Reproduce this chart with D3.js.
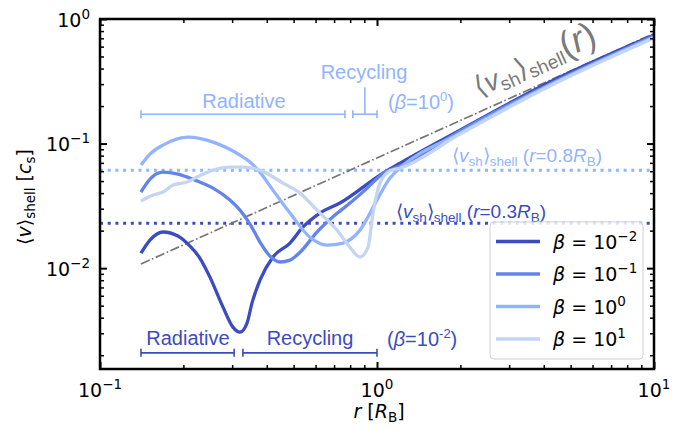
<!DOCTYPE html>
<html>
<head>
<meta charset="utf-8">
<script src="https://cdn.jsdelivr.net/npm/d3@7"></script>
<style>
body { margin: 0; background: #fff; }
</style>
</head>
<body>
<svg id="chart" width="699" height="430"></svg>
<script>
// --- data ---
var betaExp = ["\u22122", "\u22121", "0", "1"];

var rB2 = [0.1406, 0.1515, 0.1688, 0.1912, 0.2113, 0.2296, 0.2494, 0.2780, 0.3019, 0.3201, 0.3394, 0.3537, 0.3780, 0.4211, 0.4852, 0.5406, 0.6226, 0.7351, 1.051, 1.211, 1.994, 4.21, 10];
var vB2 = [0.0132, 0.0168, 0.0195, 0.0181, 0.0150, 0.0120, 0.00847, 0.00486, 0.00336, 0.00306, 0.00362, 0.00524, 0.00801, 0.0123, 0.0159, 0.0214, 0.0277, 0.0333, 0.0579, 0.0697, 0.1283, 0.312, 0.744];

var rB1 = [0.1406, 0.1515, 0.1688, 0.1912, 0.2203, 0.2559, 0.2945, 0.3201, 0.3479, 0.3780, 0.4108, 0.4465, 0.4852, 0.5272, 0.6073, 0.7053, 0.7991, 0.9052, 1.051, 1.211, 1.994, 4.21, 10];
var vB1 = [0.0408, 0.0519, 0.0590, 0.0569, 0.0509, 0.0439, 0.0352, 0.0292, 0.0226, 0.0162, 0.0125, 0.0112, 0.0116, 0.0134, 0.0195, 0.0267, 0.0333, 0.0423, 0.0575, 0.0660, 0.126, 0.301, 0.730];

var rB0 = [0.1406, 0.1515, 0.1688, 0.2078, 0.2559, 0.3201, 0.3479, 0.3780, 0.4108, 0.4852, 0.5729, 0.6600, 0.7537, 0.8681, 1.0, 1.114, 1.211, 1.994, 4.21, 10];
var vB0 = [0.0672, 0.0824, 0.0972, 0.1128, 0.1028, 0.0808, 0.0710, 0.0590, 0.0456, 0.0277, 0.0177, 0.0153, 0.0159, 0.0202, 0.0352, 0.0530, 0.0636, 0.1214, 0.295, 0.717];

var rBp1 = [0.1406, 0.1553, 0.1688, 0.1834, 0.2061, 0.2240, 0.2559, 0.2945, 0.3282, 0.3780, 0.4577, 0.5272, 0.6073, 0.7171, 0.7991, 0.8681, 0.9279, 0.9674, 1.025, 1.114, 1.211, 1.994, 4.21, 10];
var vBp1 = [0.0345, 0.0386, 0.0408, 0.0464, 0.0491, 0.0538, 0.0612, 0.0648, 0.0648, 0.0612, 0.0482, 0.0400, 0.0292, 0.0202, 0.0147, 0.0123, 0.0147, 0.0277, 0.0482, 0.0605, 0.0636, 0.1192, 0.290, 0.704];

// <v_sh>_shell(r) reference line, and the two constant levels
var rShLine = [0.1406, 10];
var vShLine = [0.0108, 0.765];
var vShell08 = 0.0612;
var vShell03 = 0.0229;

// phase ranges in r
var phaseNames = ["Radiative", "Recycling"];
var phasesB0 = [[0.1406, 0.766], [0.818, 1.0]];
var phasesB2 = [[0.1406, 0.305], [0.328, 1.0]];

var colors = ["#3b4cc0", "#6384eb", "#92b4fe", "#c4d5f3"];
var series = [[rB2, vB2], [rB1, vB1], [rB0, vB0], [rBp1, vBp1]];

var svg = d3.select("#chart");
var pL = 100, pR = 654, pT = 19, pB = 369;

var x = d3.scaleLog().domain([0.1, 10]).range([pL, pR]);
var y = d3.scaleLog().domain([1.55e-3, 1]).range([pB, pT]);

var tickFont = "DejaVu Sans, sans-serif";
var annFont = "Liberation Sans, Arial, sans-serif";

// write text with super/subscripts as tspans
function rich(sel, parts) {
    var cur = 0;
    parts.forEach(function(p) {
        var shift = p.sup ? -p.sup : (p.sub ? p.sub : 0);
        var ts = sel.append("tspan").text(p.t);
        if (shift !== cur) ts.attr("dy", shift - cur);
        cur = shift;
        if (p.size) ts.attr("font-size", p.size);
        if (p.it) ts.attr("font-style", "italic");
    });
    return sel;
}

var plot = svg.append("g");

// horizontal dotted levels
plot.append("line")
    .attr("x1", pL).attr("x2", pR)
    .attr("y1", y(vShell08)).attr("y2", y(vShell08))
    .attr("stroke", colors[2]).attr("stroke-width", 3)
    .attr("stroke-dasharray", "3,4.7");
plot.append("line")
    .attr("x1", pL).attr("x2", pR)
    .attr("y1", y(vShell03)).attr("y2", y(vShell03))
    .attr("stroke", colors[0]).attr("stroke-width", 3)
    .attr("stroke-dasharray", "3,4.7");

// dash-dot v_sh(r)
plot.append("line")
    .attr("x1", x(rShLine[0])).attr("x2", x(rShLine[1]))
    .attr("y1", y(vShLine[0])).attr("y2", y(vShLine[1]))
    .attr("stroke", "#767676").attr("stroke-width", 1.7)
    .attr("stroke-dasharray", "9.5,2.5,1.6,2.5");

var lineGen = d3.line()
    .x(function(d) { return x(d[0]); })
    .y(function(d) { return y(d[1]); })
    .curve(d3.curveMonotoneX);

series.forEach(function(s, i) {
    var pts = s[0].map(function(r, j) { return [r, s[1][j]]; });
    plot.append("path")
        .attr("d", lineGen(pts))
        .attr("fill", "none")
        .attr("stroke", colors[i])
        .attr("stroke-width", 3.3)
        .attr("stroke-linejoin", "round")
        .attr("stroke-linecap", "butt");
});

// phase range bars
function rangeBar(r0, r1, yy, col) {
    var g = plot.append("g").attr("stroke", col).attr("stroke-width", 1.6);
    g.append("line").attr("x1", x(r0)).attr("x2", x(r1)).attr("y1", yy).attr("y2", yy);
    g.append("line").attr("x1", x(r0)).attr("x2", x(r0)).attr("y1", yy - 4).attr("y2", yy + 4);
    g.append("line").attr("x1", x(r1)).attr("x2", x(r1)).attr("y1", yy - 4).attr("y2", yy + 4);
}
var yTopBar = y(0.172), yBotBar = y(0.00209);
phasesB0.forEach(function(p) { rangeBar(p[0], p[1], yTopBar, colors[2]); });
phasesB2.forEach(function(p) { rangeBar(p[0], p[1], yBotBar, colors[0]); });

// recycling pointer (beta = 1)
var recMid = Math.sqrt(phasesB0[1][0] * phasesB0[1][1]);
plot.append("line")
    .attr("x1", x(recMid)).attr("x2", x(recMid))
    .attr("y1", yTopBar - 27).attr("y2", yTopBar)
    .attr("stroke", colors[2]).attr("stroke-width", 1.6);

function annText(txt, xx, yy, col, anchor) {
    return plot.append("text")
        .attr("x", xx).attr("y", yy)
        .attr("fill", col)
        .attr("font-family", annFont)
        .attr("font-size", 20)
        .attr("text-anchor", anchor || "middle")
        .text(txt);
}
annText(phaseNames[0], 244, 108, colors[2]);
annText(phaseNames[1], 364, 79, colors[2]);
annText(phaseNames[0], 188, 345, colors[0]);
annText(phaseNames[1], 310, 345, colors[0]);

rich(plot.append("text").attr("x", 388).attr("y", 109).attr("fill", colors[2])
    .attr("font-family", annFont).attr("font-size", 20),
    [{t: "("}, {t: "\u03b2", it: true}, {t: "=10"}, {t: "0", sup: 8, size: 13}, {t: ")", sub: 0.0001}]);
rich(plot.append("text").attr("x", 387).attr("y", 346).attr("fill", colors[0])
    .attr("font-family", annFont).attr("font-size", 20),
    [{t: "("}, {t: "\u03b2", it: true}, {t: "=10"}, {t: "-2", sup: 8, size: 13}, {t: ")", sub: 0.0001}]);

// level labels
function levelLabel(xx, yy, col, val) {
    rich(plot.append("text").attr("x", xx).attr("y", yy).attr("fill", col)
        .attr("font-family", annFont).attr("font-size", 19),
        [{t: "\u27e8"}, {t: "v", it: true}, {t: "sh", sub: 4, size: 13.5}, {t: "\u27e9", sub: 0.0001},
         {t: "shell", sub: 4, size: 13.5}, {t: " (", sub: 0.0001}, {t: "r", it: true}, {t: "=" + val},
         {t: "R", it: true}, {t: "B", sub: 4, size: 13.5}, {t: ")", sub: 0.0001}]);
}
levelLabel(452, 162, colors[2], "0.8");
levelLabel(396, 218, colors[0], "0.3");

// rotated label for the dash-dot line
var ang = Math.atan2(y(vShLine[0]) - y(vShLine[1]), x(rShLine[1]) - x(rShLine[0])) * 180 / Math.PI;
rich(plot.append("text")
    .attr("transform", "translate(479,97) rotate(" + (-ang) + ")")
    .attr("fill", "#7a7a7a").attr("font-family", annFont).attr("font-size", 28),
    [{t: "\u27e8"}, {t: "v", it: true}, {t: "sh", sub: 5, size: 19}, {t: "\u27e9", sub: 0.0001},
     {t: "shell", sub: 5, size: 19}, {t: "(", size: 36, sub: 0.0001}, {t: "r", it: true, size: 36}, {t: ")", size: 36}]);

// --- axes: inward ticks on all four sides ---
var xMajor = [0.1, 1, 10];
var xMinor = x.ticks().filter(function(d) {
    return xMajor.every(function(m) { return Math.abs(m - d) > 1e-9; });
});
var yMajor = [0.01, 0.1, 1];
var yMinor = y.ticks().filter(function(d) {
    return yMajor.every(function(m) { return Math.abs(m - d) > 1e-9; });
});

function addAxis(axisFn, pos, values, size, width) {
    var g = svg.append("g").attr("transform", pos)
        .call(axisFn.tickValues(values).tickSize(-size).tickFormat(""));
    g.select(".domain").remove();
    g.selectAll("line").attr("stroke", "#000").attr("stroke-width", width);
}
addAxis(d3.axisBottom(x), "translate(0," + pB + ")", xMajor, 7, 2);
addAxis(d3.axisBottom(x), "translate(0," + pB + ")", xMinor, 4, 1.5);
addAxis(d3.axisTop(x), "translate(0," + pT + ")", xMajor, 7, 2);
addAxis(d3.axisTop(x), "translate(0," + pT + ")", xMinor, 4, 1.5);
addAxis(d3.axisLeft(y), "translate(" + pL + ",0)", yMajor, 7, 2);
addAxis(d3.axisLeft(y), "translate(" + pL + ",0)", yMinor, 4, 1.5);
addAxis(d3.axisRight(y), "translate(" + pR + ",0)", yMajor, 7, 2);
addAxis(d3.axisRight(y), "translate(" + pR + ",0)", yMinor, 4, 1.5);

svg.append("rect")
    .attr("x", pL).attr("y", pT)
    .attr("width", pR - pL).attr("height", pB - pT)
    .attr("fill", "none").attr("stroke", "#000").attr("stroke-width", 2.5);

var expLabel = function(d) {
    var e = Math.round(Math.log10(d));
    return e < 0 ? "\u2212" + (-e) : String(e);
};

xMajor.forEach(function(d) {
    rich(svg.append("text").attr("x", x(d)).attr("y", 397)
        .attr("text-anchor", "middle").attr("font-family", tickFont).attr("font-size", 19),
        [{t: "10"}, {t: expLabel(d), sup: 8, size: 13.5}]);
});
yMajor.forEach(function(d) {
    rich(svg.append("text").attr("x", 90).attr("y", y(d) + 7.5)
        .attr("text-anchor", "end").attr("font-family", tickFont).attr("font-size", 19),
        [{t: "10"}, {t: expLabel(d), sup: 8, size: 13.5}]);
});

// axis titles
rich(svg.append("text").attr("x", 379).attr("y", 418)
    .attr("text-anchor", "middle").attr("font-family", tickFont).attr("font-size", 19),
    [{t: "r", it: true}, {t: " ["}, {t: "R", it: true}, {t: "B", sub: 4, size: 13.5}, {t: "]", sub: 0.0001}]);
rich(svg.append("text").attr("transform", "translate(31,197) rotate(-90)")
    .attr("text-anchor", "middle").attr("font-family", tickFont).attr("font-size", 19),
    [{t: "\u27e8"}, {t: "v", it: true}, {t: "\u27e9"}, {t: "shell", sub: 4, size: 13.5},
     {t: " [", sub: 0.0001}, {t: "c", it: true}, {t: "s", sub: 4, size: 13.5}, {t: "]", sub: 0.0001}]);

// legend
var leg = svg.append("g");
leg.append("rect")
    .attr("x", 490).attr("y", 222).attr("width", 153).attr("height", 137)
    .attr("rx", 4).attr("fill", "#fff").attr("fill-opacity", 0.85)
    .attr("stroke", "#d0d0d0").attr("stroke-width", 1);
betaExp.forEach(function(e, i) {
    var yy = 241.5 + i * 32.5;
    leg.append("line")
        .attr("x1", 496).attr("x2", 540).attr("y1", yy).attr("y2", yy)
        .attr("stroke", colors[i]).attr("stroke-width", 3.5);
    rich(leg.append("text").attr("x", 553).attr("y", yy + 7)
        .attr("font-family", tickFont).attr("font-size", 19),
        [{t: "\u03b2", it: true}, {t: " = 10"}, {t: e, sup: 8, size: 13.5}]);
});
</script>
</body>
</html>
